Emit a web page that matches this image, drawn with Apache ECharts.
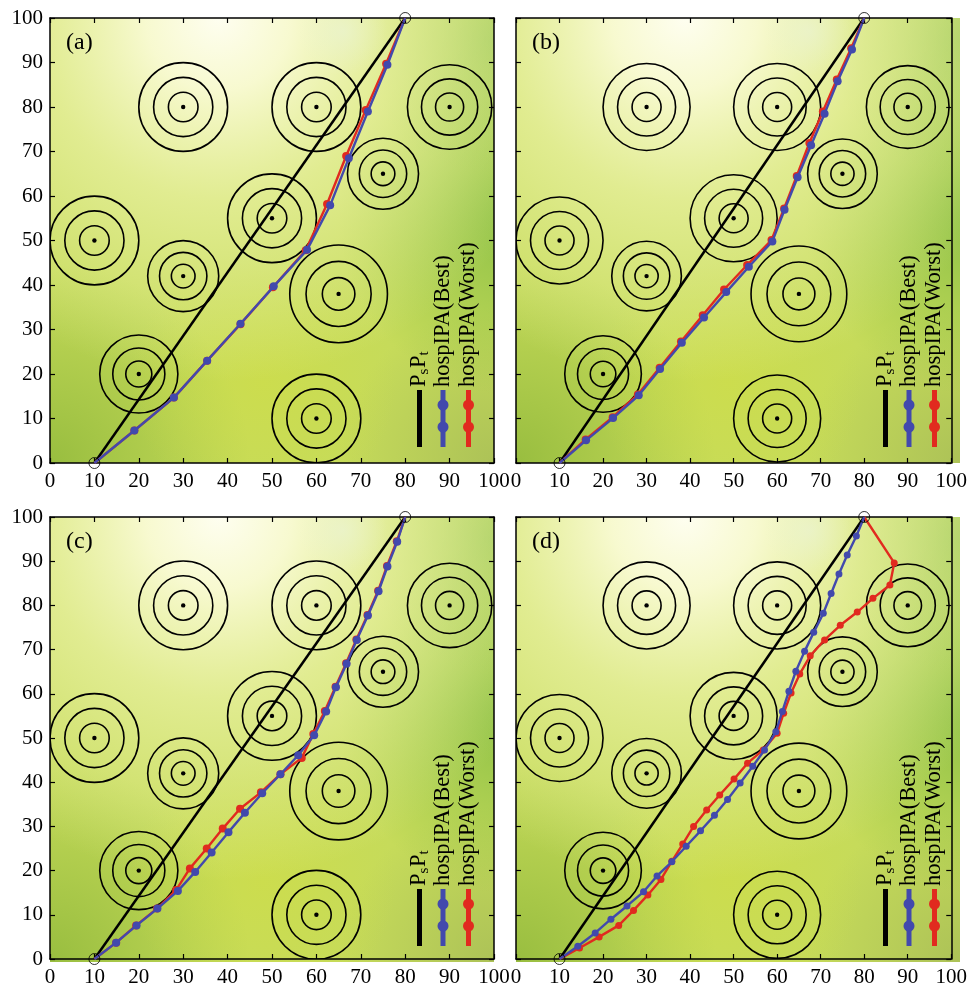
<!DOCTYPE html>
<html>
<head>
<meta charset="utf-8">
<script src="https://cdn.jsdelivr.net/npm/echarts@6/dist/echarts.min.js"></script>
<style>
  html, body { margin: 0; background: #fff; }
  #main { width: 970px; height: 988px; }
</style>
</head>
<body>
<div id="main"></div>
<script>
// threat zones: centre and outer radius (rings at r, 2r/3, r/3)
const threatCenters = [[30, 80], [60, 80], [90, 80], [75, 65], [50, 55], [10, 50], [30, 42], [65, 38], [20, 20], [60, 10]];
const threatRadii = [10, 10, 9.5, 8, 10, 10, 8, 11, 8.8, 10];

const startPoint = [10, 0];
const goalPoint = [80, 100];

// paths
const bestA = [[10, 0], [19, 7.3], [27.9, 14.7], [35.4, 23], [42.9, 31.3], [50.4, 39.7], [57.9, 47.9], [63.1, 57.9], [67.3, 68.5], [71.6, 79], [76, 89.5], [80, 100]];
const worstA = [[10, 0], [19, 7.3], [27.9, 14.7], [35.4, 23], [42.9, 31.2], [50.2, 39.5], [57.6, 47.8], [62.4, 58.2], [66.7, 69], [71.1, 79.3], [75.7, 89.7], [80, 100]];

const bestB = [[10, 0], [16.1, 5.1], [22.3, 10.1], [28.2, 15.2], [33.1, 21.1], [38.1, 27], [43.2, 32.7], [48.3, 38.4], [53.5, 44.1], [58.9, 49.8], [61.7, 56.9], [64.7, 64.2], [67.8, 71.4], [70.9, 78.5], [73.9, 85.8], [77.2, 92.9], [80, 100]];
const worstB = [[10, 0], [16, 5.3], [22.2, 10.3], [28, 15.4], [33, 21.4], [37.9, 27.3], [42.9, 33.2], [47.8, 39], [53.1, 44.5], [58.7, 50.1], [61.6, 57.2], [64.5, 64.5], [67.4, 71.9], [70.5, 79], [73.7, 86.2], [77, 93.2], [80, 100]];

const bestC = [[10, 0], [14.9, 3.7], [19.5, 7.6], [24.2, 11.4], [28.8, 15.4], [32.7, 19.7], [36.4, 24.1], [40.2, 28.7], [43.9, 33.1], [47.8, 37.5], [51.9, 41.8], [55.9, 46.1], [59.5, 50.6], [62.2, 56], [64.4, 61.5], [66.8, 66.8], [69.1, 72.2], [71.6, 77.7], [74, 83.2], [76, 88.8], [78.2, 94.4], [80, 100]];
const worstC = [[10, 0], [14.9, 3.7], [19.4, 7.6], [24.1, 11.4], [28.4, 15.6], [31.5, 20.5], [35.3, 25], [38.9, 29.5], [42.8, 34], [47.5, 37.7], [51.9, 41.8], [56.7, 45.5], [59.3, 50.9], [61.9, 56.1], [64.3, 61.6], [66.7, 66.9], [69, 72.3], [71.5, 77.8], [73.9, 83.3], [75.9, 88.9], [78.1, 94.5], [80, 100]];

const bestD = [[10, 0], [14.2, 2.9], [18.2, 5.9], [21.8, 9], [25.5, 12], [29.3, 15.2], [32.4, 18.8], [35.8, 22], [39.1, 25.5], [42.4, 29], [45.6, 32.5], [48.6, 36.1], [51.5, 39.8], [54.4, 43.6], [57.1, 47.3], [59.7, 51.4], [61.2, 56], [62.7, 60.6], [64.3, 65.1], [66.3, 69.6], [68.4, 73.9], [70.6, 78.2], [72.4, 82.7], [74.2, 87.1], [76.1, 91.4], [78.2, 95.7], [80, 100]];
const worstD = [[10, 0], [14.6, 2.5], [19.1, 5], [23.6, 7.6], [27, 11], [30.3, 14.5], [33.3, 18], [35.8, 22.1], [38.3, 26], [40.8, 30], [43.8, 33.7], [46.8, 37.1], [50.1, 40.7], [53.2, 44.3], [56.8, 47.3], [60, 51.1], [61.5, 55.6], [63.2, 60.2], [65.2, 64.5], [67.6, 68.6], [70.9, 72.2], [74.5, 75.5], [78.4, 78.5], [82, 81.6], [85.9, 84.6], [86.9, 89.6], [80, 100]];

const panelLabels = ['(a)', '(b)', '(c)', '(d)'];
const bestPaths = [bestA, bestB, bestC, bestD];
const worstPaths = [worstA, worstB, worstC, worstD];

const serif = 'Liberation Serif';
const blue = '#4249ad';
const red = '#e12a1f';
const gridLeft = [50, 516, 50, 516];
const gridTop = [18, 18, 517, 517];
const gridW = 444, gridH = 445;

const threatData = threatCenters.map((c, i) => [c[0], c[1], threatRadii[i]]);

function pathData(pts) {
  // no dot on the start / goal points
  return pts.map((p, i) => (i === 0 || i === pts.length - 1) ? { value: p, symbol: 'none' } : p);
}

function renderThreat(params, api) {
  const c = api.coord([api.value(0), api.value(1)]);
  const r = api.size([api.value(2), 0])[0];
  const ring = k => ({
    type: 'circle',
    shape: { cx: c[0], cy: c[1], r: r * k },
    style: { fill: 'transparent', stroke: '#000', lineWidth: 1.6 }
  });
  return {
    type: 'group',
    children: [ring(1), ring(2 / 3), ring(1 / 3), {
      type: 'circle',
      shape: { cx: c[0], cy: c[1], r: 2.2 },
      style: { fill: '#000' }
    }]
  };
}

function radial(x, y, r, stops) {
  return { type: 'radial', x: x, y: y, r: r, colorStops: stops.map(s => ({ offset: s[0], color: s[1] })) };
}

function background(gl, gt) {
  const layers = [
    '#c6db5a',
    radial(0.0, 1.0, 0.45, [[0, 'rgba(150,188,62,0.95)'], [1, 'rgba(150,188,62,0)']]),
    radial(1.0, 1.0, 0.35, [[0, 'rgba(164,186,86,0.75)'], [1, 'rgba(164,186,86,0)']]),
    radial(1.05, 0.45, 0.4, [[0, 'rgba(140,192,70,0.95)'], [1, 'rgba(140,192,70,0)']]),
    radial(1.0, 0.05, 0.3, [[0, 'rgba(150,196,80,0.9)'], [1, 'rgba(150,196,80,0)']]),
    radial(0.48, 0.82, 0.3, [[0, 'rgba(208,222,70,0.6)'], [1, 'rgba(208,222,70,0)']]),
    radial(0.38, 0.0, 0.82, [[0, 'rgba(254,254,240,1)'], [0.2, 'rgba(250,251,214,0.95)'], [0.5, 'rgba(236,243,168,0.7)'], [1, 'rgba(236,243,168,0)']]),
    radial(0.66, 0.03, 0.1, [[0, 'rgba(234,243,214,0.6)'], [1, 'rgba(234,243,214,0)']])
  ];
  return layers.map(fill => ({
    type: 'rect', silent: true, z: -5,
    shape: { x: gl, y: gt, width: gridW, height: gridH },
    style: { fill: fill }
  }));
}

function rotText(x, y, parts) {
  return {
    type: 'group', x: x, y: y, rotation: Math.PI / 2, z: 100, silent: true,
    children: parts.map(p => ({
      type: 'text', x: p.dx, y: p.dy || 0, z: 100,
      style: {
        text: p.t, fontSize: p.size || 22.5, fontFamily: serif, fill: '#000',
        align: 'left', verticalAlign: 'middle', textAlign: 'left', textVerticalAlign: 'middle'
      }
    }))
  };
}

function legend(gl, gt) {
  const els = [];
  els.push({ type: 'rect', z: 100, shape: { x: gl + 367, y: gt + 372, width: 5, height: 57 }, style: { fill: '#000' } });
  [[393, blue], [418.5, red]].forEach(([cx, col]) => {
    els.push({ type: 'rect', z: 100, shape: { x: gl + cx - 2.5, y: gt + 372, width: 5, height: 57 }, style: { fill: col } });
    [387, 409].forEach(cy => els.push({ type: 'circle', z: 101, shape: { cx: gl + cx, cy: gt + cy, r: 5.5 }, style: { fill: col } }));
  });
  els.push(rotText(gl + 369.5, gt + 369, [
    { t: 'P', dx: 0 }, { t: 's', dx: 12.5, dy: 5, size: 15 }, { t: 'P', dx: 19 }, { t: 't', dx: 31.5, dy: 5, size: 15 }
  ]));
  els.push(rotText(gl + 393, gt + 369, [{ t: 'hospIPA(Best)', dx: 0 }]));
  els.push(rotText(gl + 418.5, gt + 369, [{ t: 'hospIPA(Worst)', dx: 0 }]));
  els.push({
    type: 'text', z: 100, x: gl + 16, y: gt + 13,
    style: { text: '', fontSize: 24, fontFamily: serif, fill: '#000' }
  });
  return els;
}

const grids = [], xAxes = [], yAxes = [], series = [], graphics = [];

function axisBase(extra) {
  return Object.assign({
    type: 'value', min: 0, max: 100, interval: 10,
    axisLine: { show: true, onZero: false, lineStyle: { color: '#000', width: 1.5 } },
    axisTick: { show: true, inside: true, length: 5, lineStyle: { color: '#000', width: 1.2 } },
    splitLine: { show: false },
    axisLabel: { color: '#000', fontFamily: serif, fontSize: 21, margin: 8 }
  }, extra);
}

for (let i = 0; i < 4; i++) {
  grids.push({ left: gridLeft[i], top: gridTop[i], width: gridW, height: gridH, show: false });
  xAxes.push(axisBase({ gridIndex: i, position: 'bottom' }));
  yAxes.push(axisBase({ gridIndex: i, position: 'left', axisLabel: { show: i % 2 === 0, color: '#000', fontFamily: serif, fontSize: 21, margin: 7 } }));
}
for (let i = 0; i < 4; i++) {
  xAxes.push(axisBase({ gridIndex: i, position: 'top', axisLabel: { show: false } }));
  yAxes.push(axisBase({ gridIndex: i, position: 'right', axisLabel: { show: false } }));
}

for (let i = 0; i < 4; i++) {
  const ax = { xAxisIndex: i, yAxisIndex: i };
  series.push(Object.assign({
    type: 'custom', data: threatData, renderItem: renderThreat, clip: true, z: 2, silent: true
  }, ax));
  series.push(Object.assign({
    type: 'line', data: [startPoint, goalPoint], symbol: 'none', z: 3,
    lineStyle: { color: '#000', width: 2.5 }
  }, ax));
  const dot = i === 3 ? 7 : 8;
  series.push(Object.assign({
    type: 'line', data: pathData(worstPaths[i]), symbol: 'circle', symbolSize: dot, showSymbol: true, z: 4,
    lineStyle: { color: red, width: 2.4 }, itemStyle: { color: red }
  }, ax));
  series.push(Object.assign({
    type: 'line', data: pathData(bestPaths[i]), symbol: 'circle', symbolSize: dot, showSymbol: true, z: 5,
    lineStyle: { color: blue, width: 2.4 }, itemStyle: { color: blue }
  }, ax));
  series.push(Object.assign({
    type: 'scatter', data: [startPoint, goalPoint], symbol: 'circle', symbolSize: 11, z: 6,
    itemStyle: { color: 'transparent', borderColor: '#000', borderWidth: 1 }
  }, ax));

  graphics.push(...background(gridLeft[i], gridTop[i]));
  const leg = legend(gridLeft[i], gridTop[i]);
  leg[leg.length - 1].style.text = panelLabels[i];
  graphics.push(...leg);
}

const chart = echarts.init(document.getElementById('main'), null, { renderer: 'canvas' });
chart.setOption({
  animation: false,
  backgroundColor: '#fff',
  grid: grids,
  xAxis: xAxes,
  yAxis: yAxes,
  series: series,
  graphic: { elements: graphics }
});
</script>
</body>
</html>
